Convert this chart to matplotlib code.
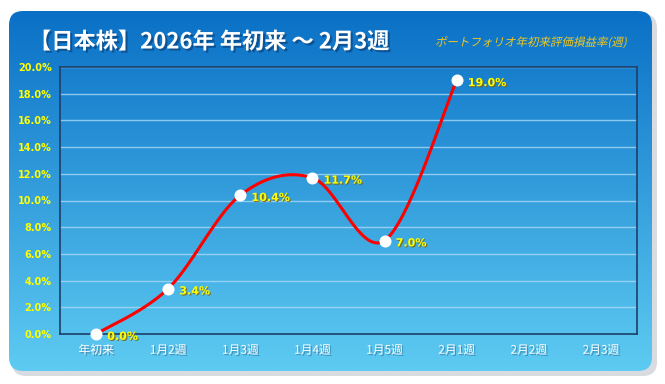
import numpy as np
import matplotlib
matplotlib.use("Agg")
import matplotlib.pyplot as plt
from matplotlib.patches import FancyBboxPatch, PathPatch
from matplotlib.textpath import TextPath
from matplotlib.font_manager import FontProperties
from matplotlib.transforms import Affine2D
import matplotlib.patheffects as pe

plt.rcParams['font.family'] = ['Noto Sans CJK JP', 'DejaVu Sans']

categories = ['年初来', '1月2週', '1月3週', '1月4週', '1月5週', '2月1週', '2月2週', '2月3週']
values = [0.0, 3.4, 10.4, 11.7, 7.0, 19.0]
yticks = [0, 2, 4, 6, 8, 10, 12, 14, 16, 18, 20]
title = '【日本株】2026年 年初来 ～ 2月3週'
subtitle = 'ポートフォリオ年初来評価損益率(週)'

W, H = 665, 384
fig = plt.figure(figsize=(W/100, H/100), dpi=100)
fig.patch.set_facecolor('white')

def fx(px): return px / W
def fy(py): return 1 - py / H

bg = fig.add_axes([0, 0, 1, 1])
bg.set_xlim(0, W); bg.set_ylim(H, 0); bg.axis('off')

sh = FancyBboxPatch((12, 14), 645, 362, boxstyle="round,pad=0,rounding_size=14",
                    fc='#cfd3d8', ec='none', alpha=0.8, zorder=0)
bg.add_patch(sh)
box = FancyBboxPatch((9, 11), 643, 360, boxstyle="round,pad=0,rounding_size=14",
                     fc='none', ec='none', zorder=1)
bg.add_patch(box)
top_c = np.array([0x0A, 0x70, 0xC6]) / 255
bot_c = np.array([0x5E, 0xCB, 0xF2]) / 255
t = np.linspace(0, 1, 256)[:, None]
grad = top_c[None, :] * (1 - t) + bot_c[None, :] * t
grad = np.repeat(grad[:, None, :], 2, axis=1)
im = bg.imshow(grad, extent=(9, 652, 371, 11), aspect='auto', zorder=1)
im.set_clip_path(box)

bg.text(29, 42, title, color='white', fontsize=16, fontweight='bold',
        va='center', ha='left', zorder=5,
        path_effects=[pe.withSimplePatchShadow(offset=(1.5, -1.5), shadow_rgbFace='#0a3a70', alpha=0.6)])

# italic-like subtitle via skewed text path (in pixel coords, y down)
fp = FontProperties(family='Noto Sans CJK JP', size=11)
tp = TextPath((0, 0), subtitle, prop=fp)
ext = tp.get_extents()
scale = 190 / ext.width
tr = Affine2D().skew_deg(12, 0).scale(scale, -scale).translate(435, 46)
patch = PathPatch(tr.transform_path(tp), fc='#F2C81E', ec='none', zorder=5)
bg.add_patch(patch)

L, R, T, B = 60, 637, 67, 334
ax = fig.add_axes([fx(L), fy(B), fx(R - L), (B - T) / H])
ax.set_facecolor('none')
n = len(categories)
ax.set_xlim(-0.5, n - 0.5)
ax.set_ylim(0, 20)
for y in yticks[1:]:
    ax.axhline(y, color='#a8daf8', lw=1.0, alpha=0.8, zorder=1)
for s in ax.spines.values():
    s.set_color('#1c3f6a'); s.set_linewidth(1.2)

xs = np.arange(len(values), dtype=float)
ys = np.array(values, dtype=float)
px, py = [], []
for i in range(len(xs) - 1):
    p0 = (xs[max(i-1, 0)], ys[max(i-1, 0)])
    p1 = (xs[i], ys[i]); p2 = (xs[i+1], ys[i+1])
    p3 = (xs[min(i+2, len(xs)-1)], ys[min(i+2, len(xs)-1)])
    c1 = (p1[0] + (p2[0]-p0[0])/6, p1[1] + (p2[1]-p0[1])/6)
    c2 = (p2[0] - (p3[0]-p1[0])/6, p2[1] - (p3[1]-p1[1])/6)
    tt = np.linspace(0, 1, 60)
    bx = (1-tt)**3*p1[0] + 3*(1-tt)**2*tt*c1[0] + 3*(1-tt)*tt**2*c2[0] + tt**3*p2[0]
    by = (1-tt)**3*p1[1] + 3*(1-tt)**2*tt*c1[1] + 3*(1-tt)*tt**2*c2[1] + tt**3*p2[1]
    px.extend(bx); py.extend(by)
ax.plot(px, py, color='#ff0000', lw=2.2, zorder=3, clip_on=False)
ax.scatter(xs, ys, s=75, color='white', zorder=4, clip_on=False, linewidths=0)
for x, y in zip(xs, ys):
    ax.annotate(f'{y:.1f}%', (x, y), xytext=(8, -2), textcoords='offset points',
                color='#ffff00', fontsize=8, fontweight='bold', va='center', ha='left',
                zorder=6, family='Liberation Sans Narrow' if False else 'DejaVu Sans Condensed' if False else 'DejaVu Sans',
                path_effects=[pe.withSimplePatchShadow(offset=(0.8, -0.8), shadow_rgbFace='#806000', alpha=0.8)])

ax.set_xticks(range(n))
ax.set_xticklabels(categories, color='white', fontsize=8.5)
ax.set_yticks(yticks)
ax.set_yticklabels([f'{v:.1f}%' for v in yticks], color='#ffff00', fontsize=7, fontweight='bold',
                   family='DejaVu Sans')
ax.tick_params(length=0, pad=6)
ax.tick_params(axis='x', pad=7)
for lab in ax.get_xticklabels():
    lab.set_path_effects([pe.withSimplePatchShadow(offset=(1, -1), shadow_rgbFace='#2a6a90', alpha=0.6)])

fig.savefig('out.png', dpi=100)
